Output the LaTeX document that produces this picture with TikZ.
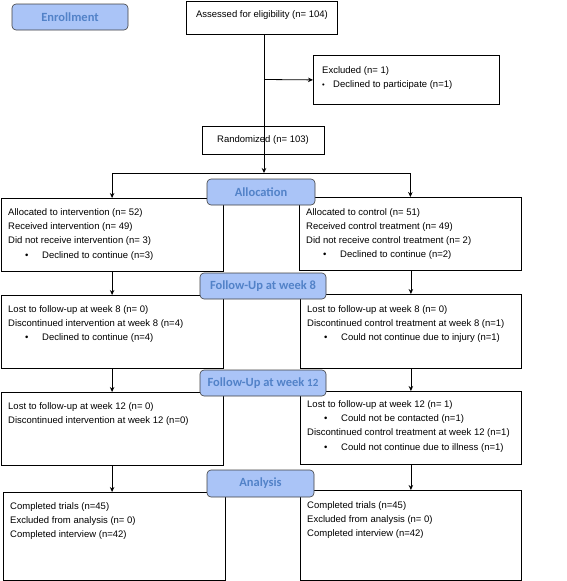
\documentclass[tikz,border=0pt]{standalone}
\usepackage{fontspec}
\setmainfont{Liberation Sans}
\newfontfamily\stagefont{Carlito}
\usetikzlibrary{arrows.meta}
\definecolor{stagefill}{RGB}{170,196,247}
\definecolor{stagetext}{RGB}{82,130,200}
\newcommand{\bul}[1]{\hspace*{17pt}\makebox[17pt][l]{•}#1}
\newcommand{\smbul}[1]{\makebox[11pt][l]{\scalebox{0.8}{•}}#1}
\begin{document}
\begin{tikzpicture}[x=1pt,y=-1pt,
  box/.style={draw, line width=0.8pt, anchor=north west, inner sep=0pt, fill=white},
  txt/.style={anchor=north west, inner sep=0pt, align=left, font=\fontsize{9.5}{14.2}\selectfont},
  one/.style={inner sep=0pt, font=\fontsize{9.5}{11}\selectfont},
  stage/.style={draw=black!75, line width=0.6pt, rounded corners=4pt, fill=stagefill,
    text=stagetext, font=\stagefont\bfseries\fontsize{12.5}{14}\selectfont, inner sep=0pt},
  arr/.style={-{Stealth[length=5pt,width=4.5pt]}, line width=0.8pt},
  ln/.style={line width=0.8pt}]
\useasboundingbox (0,0) rectangle (567,581);

% Enrollment
\node[box, minimum width=151pt, minimum height=33pt] (assess) at (186,0.5) {};
\node[one] (assesst) at (262,15) {Assessed for eligibility (n= 104)};
\node[box, minimum width=186pt, minimum height=49pt] (excl) at (313,55) {};
\node[txt] (exclt) at (322,66.5) {Excluded (n= 1)\\\smbul{Declined to participate (n=1)}};
\node[box, minimum width=122pt, minimum height=28pt] (rand) at (202,126) {};
\node[one] (randt) at (263,140) {Randomized (n= 103)};

\coordinate (split) at (264,173);
\coordinate (exj) at (264,79.5);
\draw[arr] (assess.south -| split) -- (split);
\draw[arr] (exj) -- (excl.west);

% Allocation boxes
\node[box, minimum width=222pt, minimum height=73pt] (al) at (0.7,198) {};
\node[txt] (alt) at (8,208.5) {Allocated to intervention (n= 52)\\Received intervention (n= 49)\\Did not receive intervention (n= 3)\\\bul{Declined to continue (n=3)}};
\node[box, minimum width=222pt, minimum height=73pt] (ar) at (299,197) {};
\node[txt] (art) at (306,208) {Allocated to control (n= 51)\\Received control treatment (n= 49)\\Did not receive control treatment (n= 2)\\\bul{Declined to continue (n=2)}};

\draw[ln] (al.north |- split) -- (ar.north |- split);
\draw[arr] (al.north |- split) -- (al.north);
\draw[arr] (ar.north |- split) -- (ar.north);

% Follow-up week 8
\node[box, minimum width=222pt, minimum height=73pt] (fl) at (0.7,295) {};
\node[txt] (flt) at (8,305) {Lost to follow-up at week 8 (n= 0)\\Discontinued intervention at week 8 (n=4)\\\bul{Declined to continue (n=4)}};
\node[box, minimum width=221pt, minimum height=74pt] (fr) at (300,294) {};
\node[txt] (frt) at (307,305) {Lost to follow-up at week 8 (n= 0)\\Discontinued control treatment at week 8 (n=1)\\\bul{Could not continue due to injury (n=1)}};
\draw[arr] (al.south) -- (fl.north);
\draw[arr] (ar.south -| fr.north) -- (fr.north);

% Follow-up week 12
\node[box, minimum width=222pt, minimum height=73pt] (tl) at (0.7,392) {};
\node[txt] (tlt) at (8,402.5) {Lost to follow-up at week 12 (n= 0)\\Discontinued intervention at week 12 (n=0)};
\node[box, minimum width=221pt, minimum height=73pt] (tr) at (300,391) {};
\node[txt] (trt) at (307,400.5) {Lost to follow-up at week 12 (n= 1)\\\bul{Could not be contacted (n=1)}\\Discontinued control treatment at week 12 (n=1)\\\bul{Could not continue due to illness (n=1)}};
\draw[arr] (fl.south) -- (tl.north);
\draw[arr] (fr.south) -- (tr.north);

% Analysis
\node[box, minimum width=222pt, minimum height=88pt] (nl) at (3,492) {};
\node[txt] (nlt) at (10,502.5) {Completed trials (n=45)\\Excluded from analysis (n= 0)\\Completed interview (n=42)};
\node[box, minimum width=221pt, minimum height=90pt] (nr) at (300,490) {};
\node[txt] (nrt) at (307,501) {Completed trials (n=45)\\Excluded from analysis (n= 0)\\Completed interview (n=42)};
\draw[arr] (tl.south) -- (tl.south |- nl.north);
\draw[arr] (tr.south) -- (tr.south |- nr.north);

% Stage labels
\node[stage, minimum width=116pt, minimum height=26pt] (s1) at (70,17) {Enrollment};
\node[stage, minimum width=108pt, minimum height=26pt] (s2) at (261,192) {Allocation};
\node[stage, minimum width=126pt, minimum height=26pt] (s3) at (263,286) {Follow-Up at week 8};
\node[stage, minimum width=126pt, minimum height=26pt] (s4) at (263,383) {Follow-Up at week {\fontsize{11}{12}\selectfont 12}};
\node[stage, minimum width=107pt, minimum height=27pt] (s5) at (260.5,483.5) {Analysis};
\end{tikzpicture}
\end{document}
